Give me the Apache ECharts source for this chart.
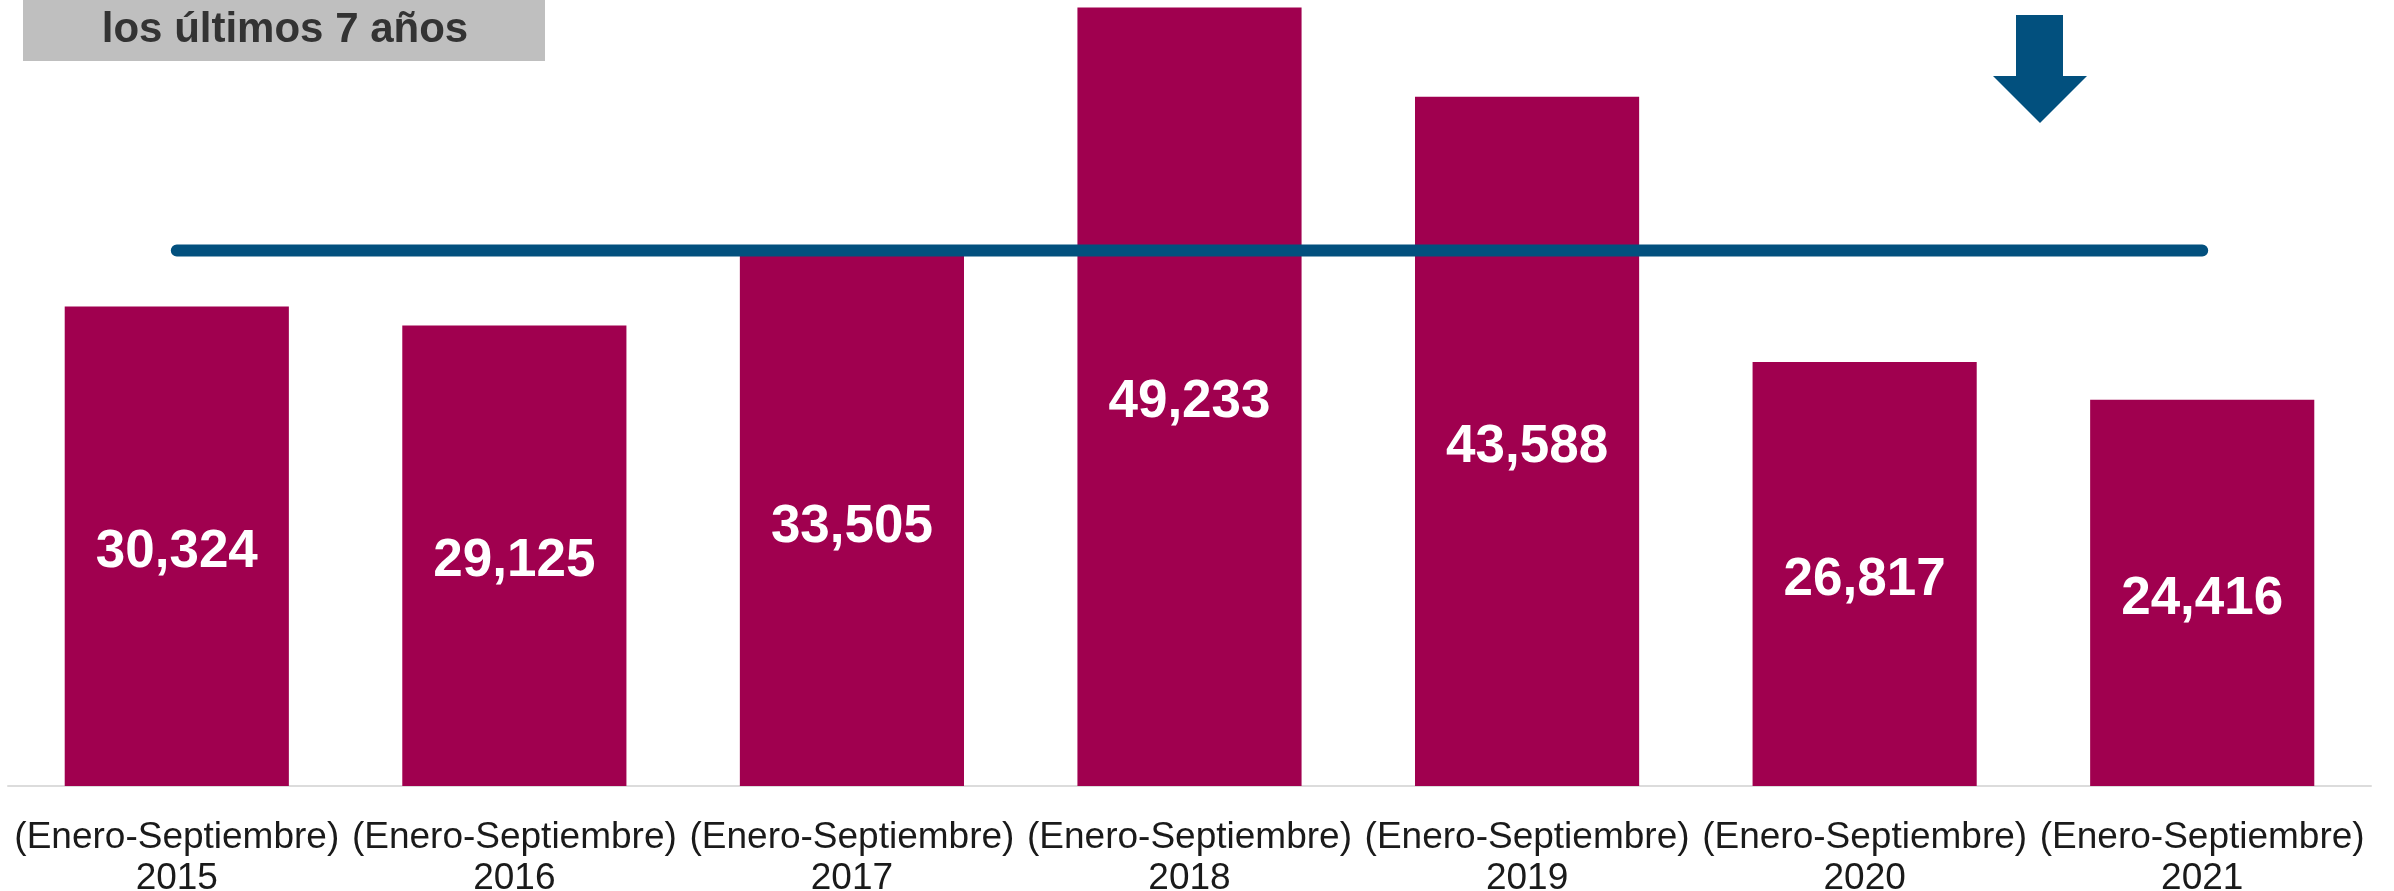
<!DOCTYPE html>
<html>
<head>
<meta charset="utf-8">
<script src="https://cdn.jsdelivr.net/npm/echarts@6/dist/echarts.min.js"></script>
<style>
  html, body { margin: 0; padding: 0; background: #fff; }
  #chart { width: 2394px; height: 891px; }
</style>
</head>
<body>
<div id="chart"></div>
<script>
// datos
var years = ['2015', '2016', '2017', '2018', '2019', '2020', '2021'];
var periodo = '(Enero-Septiembre)';
var totals = [30324, 29125, 33505, 49233, 43588, 26817, 24416];
// linea horizontal (promedio)
var promedio = [33858, 33858, 33858, 33858, 33858, 33858, 33858];

var wine = '#A0004F';
var blue = '#02507E';

var chart = echarts.init(document.getElementById('chart'));
chart.setOption({
  animation: false,
  grid: { left: 8, right: 23, top: 0, bottom: 105, outerBoundsMode: 'none', containLabel: false },
  xAxis: {
    type: 'category',
    data: years,
    axisLine: { lineStyle: { color: '#dcdcdc', width: 2 } },
    axisTick: { show: false },
    axisLabel: {
      margin: 31,
      interval: 0,
      fontFamily: 'Liberation Sans, Arial, sans-serif',
      fontSize: 37,
      lineHeight: 41,
      color: '#1a1a1a',
      formatter: function (v) { return periodo + '\n' + v; }
    }
  },
  yAxis: { type: 'value', min: 0, max: 49700, show: false, splitLine: { show: false } },
  series: [
    {
      type: 'bar',
      data: totals,
      barCategoryGap: '33.6%',
      itemStyle: { color: wine },
      label: {
        show: true,
        position: 'inside',
        offset: [0, 6],
        color: '#fff',
        fontFamily: 'Liberation Sans, Arial, sans-serif',
        fontWeight: 'bold',
        fontSize: 53,
        formatter: function (p) { return p.value.toLocaleString('en-US'); }
      }
    },
    {
      type: 'line',
      data: promedio,
      symbol: 'none',
      z: 5,
      lineStyle: { color: blue, width: 12, cap: 'round' }
    }
  ],
  graphic: [
    {
      type: 'rect',
      shape: { x: 23, y: 0, width: 522, height: 61 },
      style: { fill: '#bfbfbf' }
    },
    {
      type: 'text',
      x: 285, y: 30,
      style: {
        text: 'los últimos 7 años',
        fill: '#333',
        font: 'bold 42px "Liberation Sans", Arial, sans-serif',
        align: 'center',
        verticalAlign: 'middle'
      }
    },
    {
      type: 'polygon',
      shape: {
        points: [[2016, 15], [2063, 15], [2063, 76], [2087, 76], [2040, 123], [1993, 76], [2016, 76]]
      },
      style: { fill: blue }
    }
  ]
});
</script>
</body>
</html>
